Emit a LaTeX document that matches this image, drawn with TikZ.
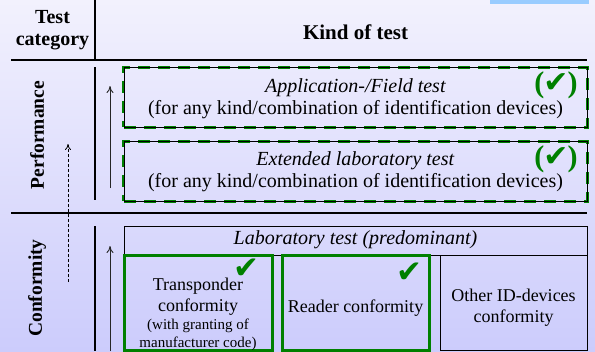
\documentclass[tikz,border=0pt]{standalone}
\usepackage{fontspec}
\setmainfont{Liberation Serif}
\newfontfamily\symfont{DejaVu Sans}
\usetikzlibrary{arrows.meta}
\definecolor{okgreen}{RGB}{0,128,0}
\definecolor{bgtop}{RGB}{242,241,253}
\definecolor{bgbot}{RGB}{204,204,252}
\definecolor{tabblue}{RGB}{153,204,255}
\begin{document}
\begin{tikzpicture}[x=1bp,y=-1bp,
  rule/.style={line width=1.5bp},
  dbox/.style={draw=black, line width=0.8bp, inner sep=0pt,
     preaction={draw=okgreen, line width=3bp, dash pattern=on 12bp off 8bp}},
  gbox/.style={draw=okgreen, line width=3bp, inner sep=0pt},
  pbox/.style={draw=black, line width=0.8bp, inner sep=0pt},
  body/.style={font=\fontsize{20bp}{22bp}\selectfont, align=center, inner sep=0pt},
  small/.style={font=\fontsize{18bp}{21bp}\selectfont, align=center, inner sep=0pt},
  head/.style={font=\bfseries\fontsize{20bp}{22bp}\selectfont, align=center, inner sep=0pt},
  arr/.style={line width=0.9bp, draw=black!85, -{To[length=7bp,width=7bp]}},
  darr/.style={line width=0.8bp, draw=black, dash pattern=on 3bp off 2bp, -{To[length=6bp,width=6bp]}},
  bigcheck/.style={text=okgreen, inner sep=0pt, font=\bfseries\fontsize{30bp}{30bp}\selectfont},
  check/.style={text=okgreen, inner sep=0pt, font=\symfont\fontsize{31bp}{31bp}\selectfont}
]
\useasboundingbox (0,0) rectangle (595,351);
\shade[top color=bgtop, bottom color=bgbot] (0,0) rectangle (595,351);
\fill[tabblue] (490,0) rectangle (589,4);

% grid lines
\draw[rule] (95,0) -- (95,60);
\draw[rule] (11,60) -- (587,60);
\draw[rule] (11,213) -- (587,213);
\draw[rule] (95,67) -- (95,200);
\draw[rule] (95,226) -- (95,351);

% headers
\node[head] (hcat) at (52.5,30) {Test\\category};
\node[head, font=\bfseries\fontsize{21bp}{22bp}\selectfont] (hkind) at (355.5,32) {Kind of test};
\node[head, rotate=90, font=\bfseries\fontsize{19.5bp}{22bp}\selectfont] (perf) at (37,135) {Performance};
\node[head, rotate=90, font=\bfseries\fontsize{19.5bp}{22bp}\selectfont] (conf) at (37,288) {Conformity};

% arrows
\coordinate (pa1) at (110,188);
\coordinate (pa2) at (110,86);
\coordinate (ca1) at (110,351);
\coordinate (ca2) at (110,246);
\coordinate (da1) at (68,282);
\coordinate (da2) at (68,144);
\draw[arr] (pa1) -- (pa2);
\draw[arr] (ca1) -- (ca2);
\draw[darr] (da1) -- (da2);

% performance boxes
\node[dbox, minimum width=463bp, minimum height=60bp] (app) at (355.5,97) {};
\node[body] (apptxt) at (355.5,99) {\textit{Application-/Field test}\\(for any kind/combination of identification devices)};
\node[bigcheck] (appchk) at (556,85) {(\kern-1bp{\symfont\fontsize{30bp}{30bp}\selectfont ✔}\kern-1bp)};

\node[dbox, minimum width=463bp, minimum height=60bp] (ext) at (355.5,171) {};
\node[body] (exttxt) at (355.5,172) {\textit{Extended laboratory test}\\(for any kind/combination of identification devices)};
\node[bigcheck] (extchk) at (556,159) {(\kern-1bp{\symfont\fontsize{30bp}{30bp}\selectfont ✔}\kern-1bp)};

% conformity boxes
\node[pbox, minimum width=463bp, minimum height=29bp] (lab) at (355.5,240.5) {};
\node[body] (labtxt) at (355.5,240) {\textit{Laboratory test (predominant)}};

\node[gbox, minimum width=148bp, minimum height=95bp] (trans) at (198,302.5) {};
\node[small] (transtxt) at (198,314) {Transponder\\conformity\\[-3bp]{\fontsize{15bp}{17bp}\selectfont (with granting of}\\[-3bp]{\fontsize{15bp}{17bp}\selectfont manufacturer code)}};
\node[check] (transchk) at (246,269) {✔};

\node[gbox, minimum width=147bp, minimum height=95bp] (reader) at (355.5,302.5) {};
\node[small] (readertxt) at (355.5,308) {Reader conformity};
\node[check] (readerchk) at (409,273) {✔};

\node[pbox, minimum width=147bp, minimum height=95bp] (other) at (513.5,302.5) {};
\node[small] (othertxt) at (513.5,308) {Other ID-devices\\conformity};
\end{tikzpicture}
\end{document}
